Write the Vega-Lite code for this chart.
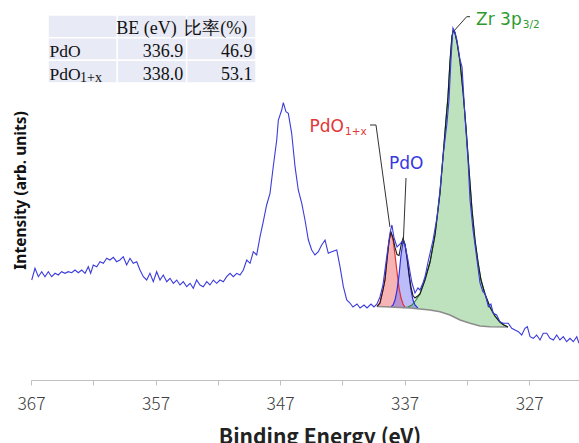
{
  "$schema": "https://vega.github.io/schema/vega-lite/v6.json",
  "width": 548,
  "height": 380,
  "autosize": {"type": "none"},
  "padding": {"left": 31, "top": 0, "right": 0, "bottom": 63},
  "background": "white",
  "config": {"view": {"stroke": null}},
  "datasets": {
    "spectrum": [
      {"be":366.94,"i":100},{"be":366.68,"i":111.7},{"be":366.41,"i":103.3},{"be":366.14,"i":108.3},{"be":365.88,"i":103.3},
      {"be":365.61,"i":108.3},{"be":365.34,"i":103.3},{"be":365.07,"i":106.7},{"be":364.81,"i":105},{"be":364.54,"i":108.3},
      {"be":364.27,"i":106.7},{"be":364.01,"i":108.3},{"be":363.73,"i":107.3},{"be":363.47,"i":110},{"be":363.20,"i":107.3},
      {"be":362.93,"i":110},{"be":362.66,"i":106.7},{"be":362.40,"i":113.3},{"be":362.21,"i":106.7},{"be":362.00,"i":115},
      {"be":361.72,"i":113.3},{"be":361.46,"i":118.3},{"be":361.19,"i":116.7},{"be":360.92,"i":121.7},{"be":360.66,"i":120},
      {"be":360.39,"i":122.7},{"be":360.12,"i":118.3},{"be":359.86,"i":120},{"be":359.59,"i":123.3},{"be":359.32,"i":115},
      {"be":359.05,"i":121.7},{"be":358.79,"i":116.7},{"be":358.51,"i":118.3},{"be":358.25,"i":110},{"be":357.98,"i":103.3},
      {"be":357.71,"i":100},{"be":357.45,"i":106.7},{"be":357.18,"i":98.3},{"be":356.91,"i":108.3},{"be":356.64,"i":100},
      {"be":356.38,"i":105},{"be":356.10,"i":98.3},{"be":355.84,"i":101.7},{"be":355.57,"i":96.7},{"be":355.30,"i":100},
      {"be":355.04,"i":95},{"be":354.77,"i":98.3},{"be":354.50,"i":93.3},{"be":354.23,"i":96.7},{"be":353.97,"i":91.7},
      {"be":353.70,"i":100},{"be":353.43,"i":95},{"be":353.17,"i":93.3},{"be":352.89,"i":98.3},{"be":352.63,"i":95},
      {"be":352.36,"i":100},{"be":352.09,"i":96.7},{"be":351.82,"i":100},{"be":351.56,"i":98.3},{"be":351.29,"i":103.3},
      {"be":351.02,"i":106.7},{"be":350.76,"i":103.3},{"be":350.48,"i":106.7},{"be":350.22,"i":105},{"be":349.95,"i":110},
      {"be":349.68,"i":120},{"be":349.41,"i":116.7},{"be":349.15,"i":128.3},{"be":348.88,"i":125},{"be":348.61,"i":143.3},
      {"be":348.35,"i":158.3},{"be":348.08,"i":175},{"be":347.81,"i":186.7},{"be":347.55,"i":213.3},{"be":347.27,"i":240},
      {"be":347.14,"i":260},{"be":346.87,"i":270},{"be":346.74,"i":277.3},{"be":346.53,"i":268.3},{"be":346.34,"i":266.7},
      {"be":346.07,"i":246.7},{"be":345.80,"i":213.3},{"be":345.54,"i":190},{"be":345.26,"i":176.7},{"be":345.00,"i":160},
      {"be":344.73,"i":140},{"be":344.46,"i":130},{"be":344.20,"i":125},{"be":343.93,"i":128.3},{"be":343.66,"i":135},
      {"be":343.39,"i":140},{"be":343.13,"i":126.7},{"be":342.86,"i":128.3},{"be":342.45,"i":130},{"be":342.19,"i":113.3},
      {"be":341.92,"i":93.3},{"be":341.65,"i":80},{"be":341.39,"i":77},{"be":341.15,"i":73},{"be":340.82,"i":76},
      {"be":340.58,"i":72},{"be":340.26,"i":75},{"be":340.02,"i":72},{"be":339.70,"i":76},{"be":339.46,"i":73},
      {"be":339.22,"i":76},{"be":338.98,"i":83},{"be":338.74,"i":95},{"be":338.58,"i":110},{"be":338.42,"i":125},
      {"be":338.18,"i":147},{"be":338.02,"i":155},{"be":337.85,"i":142},{"be":337.61,"i":133},{"be":337.37,"i":136},
      {"be":337.13,"i":140},{"be":336.97,"i":135},{"be":336.73,"i":120},{"be":336.57,"i":108},{"be":336.41,"i":97},
      {"be":336.17,"i":87},{"be":335.93,"i":92},{"be":335.77,"i":90},{"be":335.53,"i":97},{"be":335.37,"i":103},
      {"be":335.12,"i":118},{"be":334.72,"i":140},{"be":334.40,"i":163},{"be":334.16,"i":190},{"be":333.92,"i":223},
      {"be":333.60,"i":257},{"be":333.44,"i":280},{"be":333.28,"i":320},{"be":333.12,"i":352},{"be":332.96,"i":348},
      {"be":332.80,"i":340},{"be":332.55,"i":320},{"be":332.39,"i":313},{"be":332.15,"i":262},{"be":331.91,"i":220},
      {"be":331.75,"i":180},{"be":331.51,"i":150},{"be":331.19,"i":120},{"be":330.95,"i":97},{"be":330.71,"i":88},
      {"be":330.55,"i":86.7},{"be":330.28,"i":73.3},{"be":330.07,"i":76},{"be":329.88,"i":66.7},{"be":329.61,"i":65},
      {"be":329.35,"i":58.3},{"be":329.08,"i":56.7},{"be":328.68,"i":56.7},{"be":328.40,"i":51.7},{"be":328.14,"i":50},
      {"be":327.87,"i":48.3},{"be":327.60,"i":45},{"be":327.34,"i":51.7},{"be":327.15,"i":53.3},{"be":326.93,"i":43.3},
      {"be":326.67,"i":41.7},{"be":326.40,"i":45},{"be":326.13,"i":40},{"be":325.87,"i":46.7},{"be":325.59,"i":46.7},
      {"be":325.33,"i":41.7},{"be":325.06,"i":40},{"be":324.79,"i":45},{"be":324.53,"i":40},{"be":324.26,"i":43.3},
      {"be":323.99,"i":38.3},{"be":323.72,"i":41.7},{"be":323.46,"i":38.3},{"be":323.18,"i":43.3},{"be":323.00,"i":36.7}
    ],
    "comp": [
      {"comp":"PdO1+x","be":339.22,"i":73.5,"base":73.5},{"comp":"PdO1+x","be":338.98,"i":77,"base":73.4},
      {"comp":"PdO1+x","be":338.74,"i":90,"base":73.3},{"comp":"PdO1+x","be":338.58,"i":100,"base":73.2},
      {"comp":"PdO1+x","be":338.42,"i":120,"base":73.1},{"comp":"PdO1+x","be":338.26,"i":138,"base":73.05},
      {"comp":"PdO1+x","be":338.10,"i":148,"base":72.95},{"comp":"PdO1+x","be":337.93,"i":140,"base":72.85},
      {"comp":"PdO1+x","be":337.77,"i":125,"base":72.75},{"comp":"PdO1+x","be":337.61,"i":108,"base":72.65},
      {"comp":"PdO1+x","be":337.45,"i":92,"base":72.55},{"comp":"PdO1+x","be":337.29,"i":82,"base":72.45},
      {"comp":"PdO1+x","be":337.13,"i":76,"base":72.35},{"comp":"PdO1+x","be":336.97,"i":72.5,"base":72.25},
      {"comp":"PdO","be":338.10,"i":72.95,"base":72.95},{"comp":"PdO","be":337.93,"i":75,"base":72.85},
      {"comp":"PdO","be":337.77,"i":80,"base":72.75},{"comp":"PdO","be":337.61,"i":90,"base":72.65},
      {"comp":"PdO","be":337.45,"i":105,"base":72.55},{"comp":"PdO","be":337.29,"i":125,"base":72.45},
      {"comp":"PdO","be":337.13,"i":138,"base":72.35},{"comp":"PdO","be":336.97,"i":135,"base":72.25},
      {"comp":"PdO","be":336.81,"i":122,"base":72.15},{"comp":"PdO","be":336.65,"i":105,"base":72.05},
      {"comp":"PdO","be":336.49,"i":90,"base":71.95},{"comp":"PdO","be":336.33,"i":80,"base":71.85},
      {"comp":"PdO","be":336.17,"i":75,"base":71.75},{"comp":"PdO","be":335.93,"i":71.8,"base":71.6},
      {"comp":"Zr","be":337.13,"i":72.4,"base":72.35},{"comp":"Zr","be":336.73,"i":73,"base":72.1},
      {"comp":"Zr","be":336.41,"i":75,"base":71.9},{"comp":"Zr","be":336.09,"i":80,"base":71.5},
      {"comp":"Zr","be":335.77,"i":86,"base":71},{"comp":"Zr","be":335.37,"i":100,"base":70.5},
      {"comp":"Zr","be":334.96,"i":118,"base":70},{"comp":"Zr","be":334.56,"i":145,"base":69.2},
      {"comp":"Zr","be":334.16,"i":187,"base":68.3},{"comp":"Zr","be":333.92,"i":223,"base":67.3},
      {"comp":"Zr","be":333.68,"i":260,"base":66.3},{"comp":"Zr","be":333.52,"i":283,"base":65.7},
      {"comp":"Zr","be":333.36,"i":318,"base":65},{"comp":"Zr","be":333.20,"i":344,"base":64},
      {"comp":"Zr","be":333.08,"i":350,"base":63.2},{"comp":"Zr","be":332.96,"i":347,"base":62.5},
      {"comp":"Zr","be":332.80,"i":338,"base":61.5},{"comp":"Zr","be":332.55,"i":318,"base":60},
      {"comp":"Zr","be":332.31,"i":288,"base":59},{"comp":"Zr","be":332.07,"i":252,"base":58},
      {"comp":"Zr","be":331.83,"i":210,"base":57},{"comp":"Zr","be":331.59,"i":170,"base":56.3},
      {"comp":"Zr","be":331.35,"i":140,"base":55.5},{"comp":"Zr","be":331.11,"i":118,"base":54.8},
      {"comp":"Zr","be":330.87,"i":100,"base":54},{"comp":"Zr","be":330.55,"i":86,"base":53.8},
      {"comp":"Zr","be":330.15,"i":73,"base":53.3},{"comp":"Zr","be":329.75,"i":64,"base":53.2},
      {"comp":"Zr","be":329.35,"i":58,"base":53.1},{"comp":"Zr","be":329.03,"i":55,"base":53.05},
      {"comp":"Zr","be":328.70,"i":53,"base":53}
    ],
    "bg": [
      {"be":339.22,"i":73.5},{"be":338.58,"i":73.2},{"be":338.18,"i":73},{"be":337.37,"i":72.5},{"be":336.57,"i":72},
      {"be":335.77,"i":71},{"be":334.96,"i":70},{"be":334.16,"i":68.3},{"be":333.36,"i":65},{"be":332.55,"i":60},
      {"be":331.75,"i":56.7},{"be":330.95,"i":54},{"be":330.15,"i":53.3},{"be":328.70,"i":53}
    ],
    "fit": [
      {"be":339.22,"i":73.5},{"be":338.98,"i":77},{"be":338.74,"i":90},{"be":338.58,"i":100},{"be":338.42,"i":120},
      {"be":338.26,"i":138},{"be":338.10,"i":148},{"be":337.93,"i":142.2},{"be":337.77,"i":132.3},{"be":337.61,"i":125.4},
      {"be":337.45,"i":124.5},{"be":337.29,"i":134.6},{"be":337.13,"i":141.7},{"be":336.97,"i":135.8},{"be":336.81,"i":122.8},
      {"be":336.65,"i":106.5},{"be":336.49,"i":92.8},{"be":336.33,"i":84.5},{"be":336.17,"i":82},{"be":335.93,"i":84.3},
      {"be":335.77,"i":86},{"be":335.37,"i":100},{"be":334.96,"i":118},{"be":334.56,"i":145},{"be":334.16,"i":187},
      {"be":333.92,"i":223},{"be":333.68,"i":260},{"be":333.52,"i":283},{"be":333.36,"i":318},{"be":333.20,"i":344},
      {"be":333.08,"i":350},{"be":332.96,"i":347},{"be":332.80,"i":338},{"be":332.55,"i":318},{"be":332.31,"i":288},
      {"be":332.07,"i":252},{"be":331.83,"i":210},{"be":331.59,"i":170},{"be":331.35,"i":140},{"be":331.11,"i":118},
      {"be":330.87,"i":100},{"be":330.55,"i":86},{"be":330.15,"i":73},{"be":329.75,"i":64},{"be":329.35,"i":58},
      {"be":329.03,"i":55},{"be":328.70,"i":53}
    ],
    "leaders": [
      {"name":"a","ord":1,"be":339.78,"i":255},{"name":"a","ord":2,"be":339.30,"i":255},{"name":"a","ord":3,"be":338.18,"i":153},
      {"name":"b","ord":1,"be":336.89,"i":202},{"name":"b","ord":2,"be":337.11,"i":137},
      {"name":"c","ord":1,"be":331.75,"i":363.3},{"name":"c","ord":2,"be":332.02,"i":363.3},{"name":"c","ord":3,"be":333.09,"i":348.3}
    ],
    "labels": [
      {"label":"PdO1+x","main":"PdO","sub":"1+x","be":341.87,"i":248},
      {"label":"PdO","main":"PdO","sub":"","be":335.50,"i":211.5},
      {"label":"Zr 3p3/2","main":"Zr 3p","sub":"3/2","be":327.60,"i":355}
    ],
    "table": [
      {"row":"head","col":"name","text":"","sub":""},
      {"row":"head","col":"be","text":"BE (eV)","sub":""},
      {"row":"head","col":"ratio","text":"比率(%)","sub":""},
      {"row":"PdO","col":"name","text":"PdO","sub":""},
      {"row":"PdO","col":"be","text":"336.9","sub":""},
      {"row":"PdO","col":"ratio","text":"46.9","sub":""},
      {"row":"PdO1x","col":"name","text":"PdO","sub":"1+x"},
      {"row":"PdO1x","col":"be","text":"338.0","sub":""},
      {"row":"PdO1x","col":"ratio","text":"53.1","sub":""}
    ]
  },
  "layer": [
    {
      "encoding": {
        "x": {"field":"be","type":"quantitative",
          "scale":{"domain":[323,367],"reverse":true,"nice":false,"zero":false},
          "axis":{"values":[367,362,357,352,347,342,337,332,327],
            "labelExpr":"(367 - datum.value) % 10 == 0 ? datum.label : ''",
            "grid":false,"domainColor":"#c0c0c0","tickColor":"#c0c0c0","tickSize":5,
            "labelFlush":false,"labelFont":"Noto Sans CJK JP","labelFontWeight":300,"labelFontSize":17.5,
            "labelColor":"#404040","labelPadding":10,
            "title":"Binding Energy (eV)","titleFont":"Noto Sans CJK JP","titleFontWeight":"bold",
            "titleFontSize":21,"titleColor":"#222222","titlePadding":14,"titleX":288.5}},
        "y": {"field":"i","type":"quantitative",
          "scale":{"domain":[0,380],"nice":false,"zero":false},
          "axis":{"title":"Intensity (arb. units)","labels":false,"ticks":false,"domain":false,"grid":false,
            "titleFont":"Noto Sans","titleFontSize":15.5,"titleFontWeight":"bold","titleColor":"#111111","titlePadding":3}}
      },
      "layer": [
        {"data":{"name":"comp"},"transform":[{"filter":"datum.comp == 'Zr'"}],
         "mark":{"type":"area","color":"#6cbf6c","opacity":0.45},"encoding":{"y2":{"field":"base"}}},
        {"data":{"name":"comp"},"transform":[{"filter":"datum.comp == 'PdO1+x'"}],
         "mark":{"type":"area","color":"#f06a6a","opacity":0.5},"encoding":{"y2":{"field":"base"}}},
        {"data":{"name":"comp"},"transform":[{"filter":"datum.comp == 'PdO'"}],
         "mark":{"type":"area","color":"#6a6af0","opacity":0.45},"encoding":{"y2":{"field":"base"}}},
        {"data":{"name":"comp"},"transform":[{"filter":"datum.comp == 'Zr'"}],
         "mark":{"type":"line","color":"#2e8b2e","strokeWidth":1.2}},
        {"data":{"name":"comp"},"transform":[{"filter":"datum.comp == 'PdO1+x'"}],
         "mark":{"type":"line","color":"#e23030","strokeWidth":1.2}},
        {"data":{"name":"comp"},"transform":[{"filter":"datum.comp == 'PdO'"}],
         "mark":{"type":"line","color":"#3030e0","strokeWidth":1.2}},
        {"data":{"name":"bg"},"mark":{"type":"line","color":"#8c8c8c","strokeWidth":1.6}},
        {"data":{"name":"fit"},"mark":{"type":"line","color":"#1a1a1a","strokeWidth":1.1}},
        {"data":{"name":"spectrum"},"mark":{"type":"line","color":"#3b3bdc","strokeWidth":1.1}},
        {"data":{"name":"leaders"},"mark":{"type":"line","color":"#333333","strokeWidth":1},
         "encoding":{"detail":{"field":"name"},"order":{"field":"ord","type":"quantitative"}}},
        {"data":{"name":"labels"},
         "mark":{"type":"text","align":"right","baseline":"alphabetic","font":"DejaVu Sans","fontSize":17},
         "encoding":{"text":{"field":"main"},
           "color":{"field":"label","type":"nominal","legend":null,
             "scale":{"domain":["PdO1+x","PdO","Zr 3p3/2"],"range":["#e03838","#3838e0","#2e9a2e"]}}}},
        {"data":{"name":"labels"},
         "mark":{"type":"text","align":"left","baseline":"alphabetic","font":"DejaVu Sans","fontSize":10.5,"dx":1,"dy":3},
         "encoding":{"text":{"field":"sub"},
           "color":{"field":"label","type":"nominal","legend":null,
             "scale":{"domain":["PdO1+x","PdO","Zr 3p3/2"],"range":["#e03838","#3838e0","#2e9a2e"]}}}}
      ]
    },
    {
      "data": {"name":"table"},
      "encoding": {
        "x": {"field":"col","type":"nominal","scale":{"domain":["name","be","ratio"],"range":[17,225],"paddingInner":0,"paddingOuter":0},"axis":null},
        "y": {"field":"row","type":"nominal","scale":{"domain":["head","PdO","PdO1x"],"range":[15,83],"paddingInner":0,"paddingOuter":0},"axis":null}
      },
      "layer": [
        {"mark":{"type":"rect","fill":"#e8eaf5","stroke":"white","strokeWidth":1.5}},
        {"transform":[{"filter":"datum.col == 'name'"}],
         "mark":{"type":"text","align":"left","baseline":"alphabetic","dx":1.5,"dy":-3,"font":"Liberation Serif","fontSize":17.5,"color":"#111111"},
         "encoding":{"x":{"field":"col","type":"nominal","bandPosition":0},"y":{"field":"row","type":"nominal","bandPosition":1},"text":{"field":"text"}}},
        {"transform":[{"filter":"datum.sub != ''"}],
         "mark":{"type":"text","align":"left","baseline":"alphabetic","dx":32,"dy":-1,"font":"Liberation Serif","fontSize":14,"color":"#111111"},
         "encoding":{"x":{"field":"col","type":"nominal","bandPosition":0},"y":{"field":"row","type":"nominal","bandPosition":1},"text":{"field":"sub"}}},
        {"transform":[{"filter":"datum.col != 'name' && datum.row != 'head'"}],
         "mark":{"type":"text","align":"right","baseline":"alphabetic","dx":-3.5,"dy":-3,"font":"Liberation Serif","fontSize":18,"color":"#111111"},
         "encoding":{"x":{"field":"col","type":"nominal","bandPosition":1},"y":{"field":"row","type":"nominal","bandPosition":1},"text":{"field":"text"}}},
        {"transform":[{"filter":"datum.col != 'name' && datum.row == 'head'"}],
         "mark":{"type":"text","align":"center","baseline":"alphabetic","dx":-5.5,"dy":-4,"font":"Liberation Serif","fontSize":18,"color":"#111111"},
         "encoding":{"x":{"field":"col","type":"nominal","bandPosition":0.5},"y":{"field":"row","type":"nominal","bandPosition":1},"text":{"field":"text"}}}
      ]
    }
  ],
  "resolve": {"scale": {"x":"independent","y":"independent","color":"independent"}}
}
